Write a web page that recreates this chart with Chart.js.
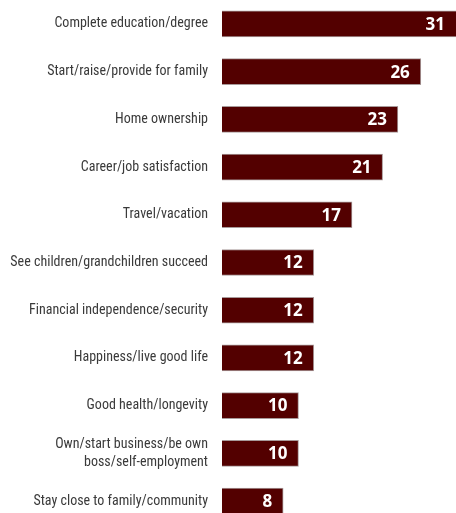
<!DOCTYPE html>
<html>
<head>
<meta charset="utf-8">
<script src="https://cdn.jsdelivr.net/npm/chart.js@4"></script>
<style>
  html, body { margin: 0; padding: 0; background: #fff; overflow: hidden; }
  #wrap { position: absolute; left: 0; top: -23px; width: 456px; height: 571px; }
</style>
</head>
<body>
<div id="wrap"><canvas id="goals"></canvas></div>
<script>
// Life goals, percent

const categories = [
  "Complete education/degree",
  "Start/raise/provide for family",
  "Home ownership",
  "Career/job satisfaction",
  "Travel/vacation",
  "See children/grandchildren succeed",
  "Financial independence/security",
  "Happiness/live good life",
  "Good health/longevity",
  ["Own/start business/be own", "boss/self-employment"],
  "Stay close to family/community",
];
const values = [31, 26, 23, 21, 17, 12, 12, 12, 10, 10, 8];

const BAR_COLOR = "#530000";

// white numbers at the end of each bar
const valueLabels = {
  id: "valueLabels",
  afterDatasetsDraw(chart) {
    const c = chart.ctx;
    const meta = chart.getDatasetMeta(0);
    c.save();
    c.font = "bold 17px 'Open Sans', sans-serif";
    c.fillStyle = "#ffffff";
    c.textAlign = "right";
    c.textBaseline = "middle";
    meta.data.forEach((bar, i) => {
      const x = Math.min(bar.x, chart.chartArea.right) - 11;
      c.fillText(values[i], x, bar.y + 1);
    });
    c.restore();
  }
};

new Chart(document.getElementById("goals"), {
  type: "bar",
  data: {
    labels: categories,
    datasets: [{
      data: values,
      backgroundColor: BAR_COLOR,
      borderColor: "#a89a9a",
      borderWidth: 1,
      borderSkipped: "left",
      barThickness: 26,
    }],
  },
  options: {
    indexAxis: "y",
    responsive: true,
    maintainAspectRatio: false,
    animation: false,
    layout: { padding: 0 },
    plugins: {
      legend: { display: false },
      tooltip: { enabled: false },
    },
    scales: {
      x: {
        min: 0,
        max: 30.6,
        display: false,
        grid: { display: false },
      },
      y: {
        afterFit: (scale) => { scale.width = 222; },
        border: { display: false },
        grid: { display: false, drawTicks: false },
        ticks: {
          padding: 14,
          color: "#3a3a3a",
          font: { family: "'Liberation Sans Narrow', 'Roboto Condensed', sans-serif", size: 14, lineHeight: 1.3 },
        },
      },
    },
  },
  plugins: [valueLabels],
});
</script>
</body>
</html>
